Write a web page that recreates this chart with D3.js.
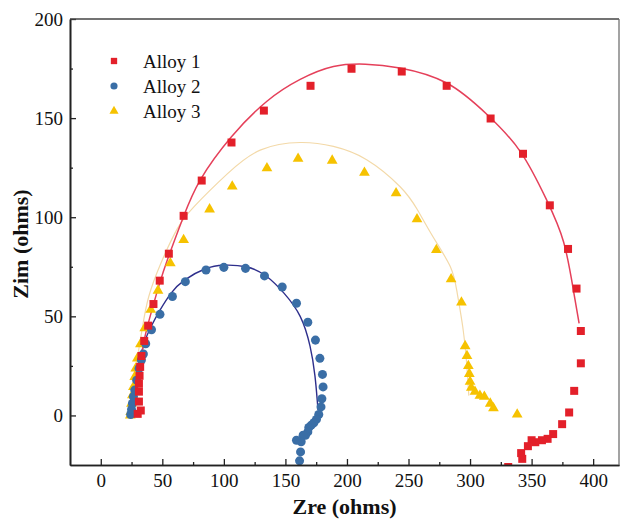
<!DOCTYPE html>
<html><head><meta charset="utf-8">
<script src="https://cdn.jsdelivr.net/npm/d3@7/dist/d3.min.js"></script>
<style>body{margin:0;background:#fff}svg{display:block}text{font-family:"Liberation Serif","Times New Roman",serif}</style>
</head><body><svg id="c" width="622" height="527"></svg>
<script>
const seriesNames = ["Alloy 1", "Alloy 2", "Alloy 3"];
const xTicks = [0, 50, 100, 150, 200, 250, 300, 350, 400];
const yTicks = [0, 50, 100, 150, 200];
const xMinor = [25, 75, 125, 175, 225, 275, 325, 375, 425];
const yMinor = [25, 75, 125, 175];

const alloy1 = [[30,0.8],[32.5,2.5],[31,7],[31,12],[31,16],[31.5,20],[32,24.5],[33,30],[35.3,37.6],[38.5,45.3],[42.8,56.2],[47.9,68],[55.3,81.6],[67.3,100.7],[82,118.5],[106.2,137.7],[132.5,153.8],[170.4,166.3],[203.7,174.9],[244.5,173.5],[281,166.3],[316.7,149.8],[343,132],[364.8,106],[379.6,84],[386.5,64],[390,42.6],[390,26.3],[384.6,12.4],[380.5,1.5],[374.8,-4.4],[367.5,-9.4],[363,-11.8],[358.4,-12.5],[353,-13.5],[350,-12.5],[347,-15.5],[341.5,-19],[342.4,-21.9],[331,-26]];
const alloy2 = [[24.3,0.5],[25,3],[25.7,6],[26.5,9.5],[27.6,12.8],[29.2,17.8],[31.1,23.7],[33,28],[34.6,31],[36.5,36.2],[41.2,43.2],[48.1,51],[58.2,60],[68.7,67.5],[85.5,73.4],[100,74.7],[117.6,74.2],[133,70.4],[147.4,64.8],[159,56.6],[168.2,47],[174.4,38],[178,28.8],[180.1,20.7],[180.6,14.4],[179.6,8.4],[178.9,4.3],[177.1,0.5],[175.2,-2],[173.1,-3.7],[171,-4.9],[169,-6.1],[168.2,-8.3],[166.3,-10],[164.4,-10],[162.8,-13.3],[159,-12.5],[162.3,-18.4],[161.5,-22.9]];
const alloy3 = [[24,0],[24.3,1.8],[24.9,6],[25.7,10.3],[26.5,14.4],[27.6,19.5],[28.4,23.7],[29.7,28.8],[32.2,36],[35.7,44],[40.6,53.4],[46.5,63],[56.5,76.8],[67.3,88.5],[88.4,104],[106.8,115.5],[135,124.7],[160.3,129.5],[188,128.6],[214.2,122.5],[239.9,112.1],[256.9,99],[272.6,83.5],[284.6,68.7],[293,57],[296,35],[297.5,30],[298.6,25],[299.4,21],[300,17],[301,14],[304,12],[308,10],[311.6,9.5],[316.4,6],[319,3.7],[338.3,0.5]];

const fit1 = [[28,8],[30,20],[33,30],[36,40],[41,52],[47.5,66],[55,80],[67,100],[81,119],[106,140.5],[135,158.5],[162,169.5],[189,176],[215,177.2],[243,175.3],[281,167.7],[314,151.7],[341,133],[362,109],[376,87.5],[384,63],[388.6,46.5]];
const fit2 = [[24,2],[27,12],[30,23],[35,36],[41,45],[48,53],[57,61.6],[68,68.3],[85,74],[100,75.8],[118,75],[134,70.5],[149,61.6],[162,50],[170,35],[174,20],[175.8,8],[176.5,2.7]];
const fit3 = [[24,1],[26,14],[30,30],[34,45],[39,60],[49,77],[62,94],[76,105.5],[103,122],[130,134],[162,137.7],[189,135.7],[216,129],[243,115.5],[257,104],[270,90],[284,75],[289.5,62],[294,45],[297,28],[299,10]];

const colors = {pt1:"#e3202a", pt2:"#3a6ea6", pt3:"#f6c200", ln1:"#e5405a", ln2:"#2e2f8c", ln3:"#f3d9a8"};

const svg = d3.select("#c");
const L = 70, R = 619, T = 19, B = 465;
const x = d3.scaleLinear().domain([-25, 421]).range([L, R]);
const y = d3.scaleLinear().domain([-25, 200]).range([B, T]);

svg.append("defs").append("clipPath").attr("id","clip").append("rect")
  .attr("x", L).attr("y", T).attr("width", R - L).attr("height", B - T);

const plot = svg.append("g").attr("clip-path", "url(#clip)");
const line = d3.line().x(d => x(d[0])).y(d => y(d[1])).curve(d3.curveNatural);

plot.append("path").datum(fit3).attr("d", line).attr("fill","none").attr("stroke",colors.ln3).attr("stroke-width",1.2);
plot.append("path").datum(fit2).attr("d", line).attr("fill","none").attr("stroke",colors.ln2).attr("stroke-width",1.4);
plot.append("path").datum(fit1).attr("d", line).attr("fill","none").attr("stroke",colors.ln1).attr("stroke-width",1.5);

const sq = d3.symbol().type(d3.symbolSquare).size(64);
const ci = d3.symbol().type(d3.symbolCircle).size(64);
const tr = d3.symbol().type(d3.symbolTriangle).size(50);

plot.selectAll(".p3").data(alloy3).join("path").attr("class","p3")
  .attr("d", tr).attr("transform", d => `translate(${x(d[0])},${y(d[1])})`).attr("fill", colors.pt3);
plot.selectAll(".p2").data(alloy2).join("path").attr("class","p2")
  .attr("d", ci).attr("transform", d => `translate(${x(d[0])},${y(d[1])})`).attr("fill", colors.pt2);
plot.selectAll(".p1").data(alloy1).join("path").attr("class","p1")
  .attr("d", sq).attr("transform", d => `translate(${x(d[0])},${y(d[1])})`).attr("fill", colors.pt1);

// axes
const xa = svg.append("g").attr("transform", `translate(0,${B})`)
  .call(d3.axisBottom(x).tickValues(xTicks).tickSize(-6).tickSizeOuter(0).tickPadding(9));
const xm = svg.append("g").attr("transform", `translate(0,${B})`)
  .call(d3.axisBottom(x).tickValues(xMinor.filter(v => x(v) < R)).tickSize(-3).tickSizeOuter(0).tickFormat(""));
const ya = svg.append("g").attr("transform", `translate(${L},0)`)
  .call(d3.axisLeft(y).tickValues(yTicks).tickSize(-6).tickSizeOuter(0).tickPadding(7));
const ym = svg.append("g").attr("transform", `translate(${L},0)`)
  .call(d3.axisLeft(y).tickValues(yMinor).tickSize(-3).tickSizeOuter(0).tickFormat(""));
[xa, xm, ya, ym].forEach(g => {
  g.selectAll("line").attr("stroke", "#222").attr("stroke-width", 1.3);
  g.select(".domain").attr("stroke", "#222").attr("stroke-width", 1.6);
  g.selectAll("text").attr("font-size", 19).attr("fill", "#111").style("font-family", '"Liberation Serif", serif');
});
// frame top and right
svg.append("line").attr("x1", L).attr("x2", R).attr("y1", T).attr("y2", T).attr("stroke", "#444").attr("stroke-width", 1.6);
svg.append("line").attr("x1", R).attr("x2", R).attr("y1", T).attr("y2", B).attr("stroke", "#666").attr("stroke-width", 1.2);

// axis titles
svg.append("text").attr("x", (L + R) / 2).attr("y", 514).attr("text-anchor", "middle")
  .attr("font-size", 22).attr("font-weight", "bold").attr("fill", "#111").text("Zre (ohms)");
svg.append("text").attr("transform", `translate(28,${(T + B) / 2 + 2}) rotate(-90)`).attr("text-anchor", "middle")
  .attr("font-size", 22).attr("font-weight", "bold").attr("fill", "#111").text("Zim (ohms)");

// legend
const legSyms = [d3.symbol().type(d3.symbolSquare).size(40), d3.symbol().type(d3.symbolCircle).size(40), d3.symbol().type(d3.symbolTriangle).size(36)];
const legCols = [colors.pt1, colors.pt2, colors.pt3];
const leg = svg.append("g");
seriesNames.forEach((n, i) => {
  const ly = 61 + i * 25;
  leg.append("path").attr("d", legSyms[i]).attr("transform", `translate(114,${ly})`).attr("fill", legCols[i]);
  leg.append("text").attr("x", 143).attr("y", ly + 7).attr("font-size", 19).attr("fill", "#111").text(n);
});
</script></body></html>
